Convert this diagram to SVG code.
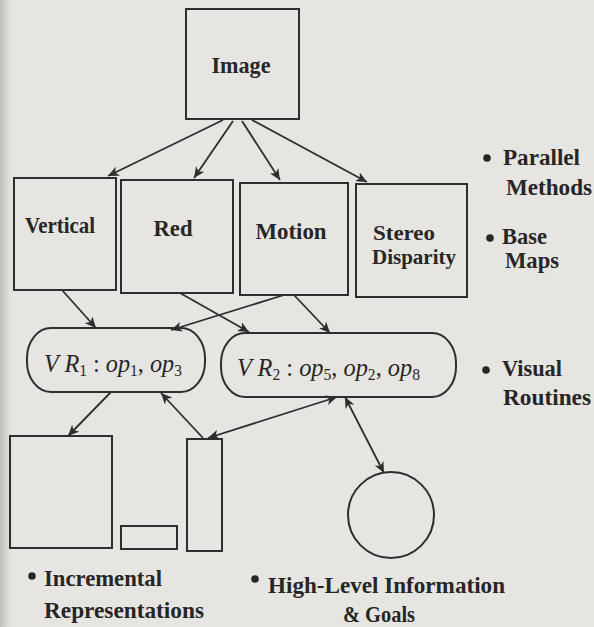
<svg xmlns="http://www.w3.org/2000/svg" width="594" height="627" viewBox="0 0 594 627">
<style>
.bg{fill:#e7e5e2}
.box{fill:none;stroke:#2e2e2e;stroke-width:2}
.con{fill:none;stroke:#2e2e2e;stroke-width:1.8}
.lbl{font-family:"Liberation Serif",serif;font-weight:bold;font-size:24px;fill:#262626}
.sm{font-size:22px}
.math{font-family:"Liberation Serif",serif;font-style:italic;font-size:25px;fill:#262626}
.up{font-style:normal}
.sub{font-size:16px;font-style:normal}
.dot{fill:#262626}
</style>
<defs>
<linearGradient id="edge" x1="0" y1="0" x2="1" y2="0">
<stop offset="0" stop-color="#bdbbb8"/>
<stop offset="1" stop-color="#e7e5e2" stop-opacity="0"/>
</linearGradient>
<marker id="ah" markerUnits="userSpaceOnUse" markerWidth="12" markerHeight="10" refX="11" refY="5" orient="auto-start-reverse">
<path d="M0,0 L11,5 L0,10 L3,5 Z" fill="#2e2e2e"/>
</marker>
</defs>
<rect class="bg" x="0" y="0" width="594" height="627"/>
<rect x="0" y="0" width="16" height="627" fill="url(#edge)"/>

<g id="connectors">
<line class="con" x1="223" y1="120" x2="108" y2="176" marker-end="url(#ah)"/>
<line class="con" x1="233" y1="121" x2="194" y2="178" marker-end="url(#ah)"/>
<line class="con" x1="242" y1="121" x2="280" y2="180" marker-end="url(#ah)"/>
<line class="con" x1="252" y1="120" x2="367" y2="182" marker-end="url(#ah)"/>
<line class="con" x1="62" y1="290" x2="96" y2="328" marker-end="url(#ah)"/>
<line class="con" x1="180" y1="293" x2="249" y2="332" marker-end="url(#ah)"/>
<line class="con" x1="284" y1="295" x2="171" y2="330" marker-end="url(#ah)"/>
<line class="con" x1="294" y1="295" x2="330" y2="333" marker-end="url(#ah)"/>
<line class="con" x1="111" y1="392" x2="68" y2="436" marker-end="url(#ah)"/>
<line class="con" x1="203" y1="438" x2="161" y2="393" marker-end="url(#ah)"/>
<line class="con" x1="208" y1="438" x2="337" y2="397" marker-start="url(#ah)" marker-end="url(#ah)"/>
<line class="con" x1="345" y1="397" x2="384" y2="473" marker-start="url(#ah)" marker-end="url(#ah)"/>
</g>

<g id="image">
<rect class="box" x="186" y="9" width="113" height="110"/>
<text class="lbl" x="241" y="73" text-anchor="middle" textLength="59" lengthAdjust="spacingAndGlyphs">Image</text>
</g>
<g id="vertical">
<rect class="box" x="14" y="178" width="102" height="112"/>
<text class="lbl" x="60" y="233" text-anchor="middle" textLength="70" lengthAdjust="spacingAndGlyphs">Vertical</text>
</g>
<g id="red">
<rect class="box" x="121" y="180" width="112" height="113"/>
<text class="lbl" x="173" y="236" text-anchor="middle" textLength="39" lengthAdjust="spacingAndGlyphs">Red</text>
</g>
<g id="motion">
<rect class="box" x="240" y="183" width="108" height="112"/>
<text class="lbl" x="291" y="239" text-anchor="middle" textLength="71" lengthAdjust="spacingAndGlyphs">Motion</text>
</g>
<g id="stereo">
<rect class="box" x="356" y="184" width="111" height="113"/>
<text class="lbl sm" x="404" y="240" text-anchor="middle" textLength="62" lengthAdjust="spacingAndGlyphs">Stereo</text>
<text class="lbl sm" x="414" y="264" text-anchor="middle" textLength="84" lengthAdjust="spacingAndGlyphs">Disparity</text>
</g>
<g id="vr1">
<rect class="box" x="27" y="328" width="178" height="64" rx="24" ry="30"/>
<text class="math" x="44" y="372" textLength="138" lengthAdjust="spacingAndGlyphs">V R<tspan class="sub" dy="4">1</tspan><tspan class="up" dy="-4"> : </tspan>op<tspan class="sub" dy="4">1</tspan><tspan class="up" dy="-4">, </tspan>op<tspan class="sub" dy="4">3</tspan></text>
</g>
<g id="vr2">
<rect class="box" x="221" y="333" width="235" height="64" rx="24" ry="30"/>
<text class="math" x="237" y="376" textLength="183" lengthAdjust="spacingAndGlyphs">V R<tspan class="sub" dy="4">2</tspan><tspan class="up" dy="-4"> : </tspan>op<tspan class="sub" dy="4">5</tspan><tspan class="up" dy="-4">, </tspan>op<tspan class="sub" dy="4">2</tspan><tspan class="up" dy="-4">, </tspan>op<tspan class="sub" dy="4">8</tspan></text>
</g>
<g id="incremental-big">
<rect class="box" x="10" y="436" width="102" height="112"/>
</g>
<g id="incremental-small">
<rect class="box" x="121" y="526" width="56" height="23"/>
</g>
<g id="incremental-thin">
<rect class="box" x="187" y="439" width="35" height="112"/>
</g>
<g id="goals">
<circle class="box" cx="391" cy="515" r="43"/>
</g>

<g id="legend">
<circle class="dot" cx="487" cy="158" r="3.8"/>
<text class="lbl" x="503" y="165" textLength="77" lengthAdjust="spacingAndGlyphs">Parallel</text>
<text class="lbl" x="506" y="195" textLength="86" lengthAdjust="spacingAndGlyphs">Methods</text>
<circle class="dot" cx="490" cy="238" r="3.8"/>
<text class="lbl" x="502" y="244" textLength="45" lengthAdjust="spacingAndGlyphs">Base</text>
<text class="lbl" x="505" y="268" textLength="54" lengthAdjust="spacingAndGlyphs">Maps</text>
<circle class="dot" cx="486" cy="370" r="3.8"/>
<text class="lbl" x="502" y="376" textLength="60" lengthAdjust="spacingAndGlyphs">Visual</text>
<text class="lbl" x="503" y="405" textLength="88" lengthAdjust="spacingAndGlyphs">Routines</text>
<circle class="dot" cx="32" cy="576" r="3.8"/>
<text class="lbl" x="44" y="586" textLength="118" lengthAdjust="spacingAndGlyphs">Incremental</text>
<text class="lbl" x="44" y="618" textLength="160" lengthAdjust="spacingAndGlyphs">Representations</text>
<circle class="dot" cx="255" cy="579" r="3.8"/>
<text class="lbl" x="268" y="593" textLength="237" lengthAdjust="spacingAndGlyphs">High-Level Information</text>
<text class="lbl" x="343" y="622" textLength="72" lengthAdjust="spacingAndGlyphs">&amp; Goals</text>
</g>
</svg>
